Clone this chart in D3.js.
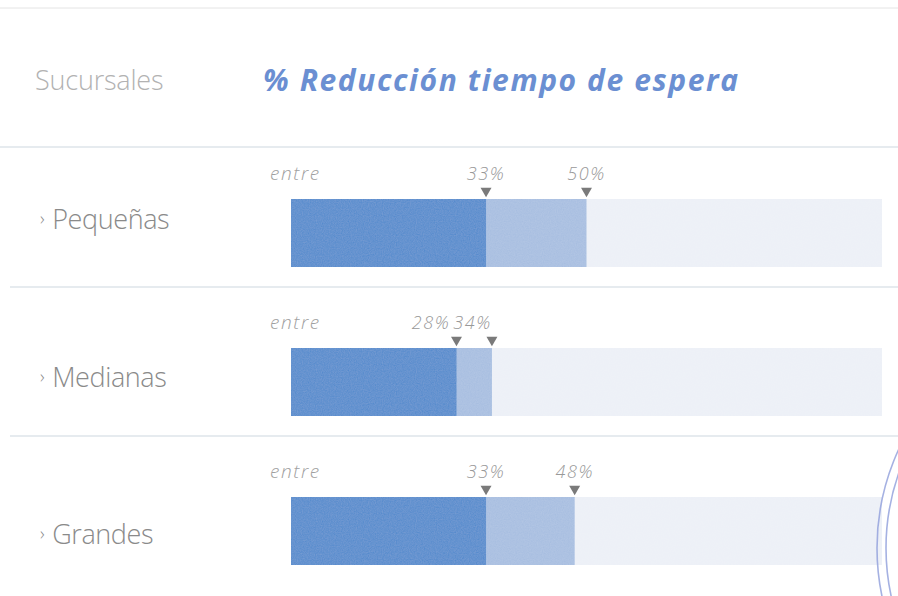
<!DOCTYPE html>
<html lang="es">
<head>
<meta charset="utf-8">
<title>% Reducción tiempo de espera</title>
<script src="https://cdn.jsdelivr.net/npm/d3@7"></script>
<style>
  html, body { margin: 0; padding: 0; background: #fff; }
  svg { display: block; }
</style>
</head>
<body>
<svg id="chart" width="898" height="596"></svg>
<script>
// Branch size categories and the range of waiting-time reduction (percent)
const categories = ["Pequeñas", "Medianas", "Grandes"];
const lowValues  = [33, 28, 33];
const highValues = [50, 34, 48];
const maxValue = 100;

const headerLeft  = "Sucursales";
const headerRight = "% Reducción tiempo de espera";
const rangeWord   = "entre";

const W = 898, H = 596;
const svg = d3.select("#chart");

const fontFamily = "'Open Sans', 'Noto Sans', sans-serif";

// Scales
const x = d3.scaleLinear().domain([0, maxValue]).range([291, 882]);
const y = d3.scaleBand().domain(categories).range([199, 565]).paddingInner(0.5436).paddingOuter(0);
const bh = y.bandwidth();
// baselines of the row titles in the left column
const yLabel = d3.scalePoint().domain(categories).range([229, 544]);

// grain texture for the printed bars
const defs = svg.append("defs");
const grain = defs.append("filter").attr("id", "grain")
  .attr("x", 0).attr("y", 0).attr("width", 1).attr("height", 1);
grain.append("feTurbulence").attr("type", "fractalNoise").attr("baseFrequency", 0.85)
  .attr("numOctaves", 2).attr("seed", 4).attr("result", "noise");
grain.append("feColorMatrix").attr("in", "noise").attr("type", "matrix")
  .attr("values", "0 0 0 0 1  0 0 0 0 1  0 0 0 0 1  0 0 0 0.12 0").attr("result", "speck");
grain.append("feComposite").attr("in", "speck").attr("in2", "SourceGraphic").attr("operator", "in").attr("result", "specks");
grain.append("feMerge").selectAll("feMergeNode").data(["SourceGraphic", "specks"]).join("feMergeNode").attr("in", d => d);

// Top rule
svg.append("line").attr("x1", 0).attr("x2", W).attr("y1", 8).attr("y2", 8)
  .attr("stroke", "#e4e4e4").attr("stroke-width", 1);

// Header
svg.append("text").attr("x", 35).attr("y", 90)
  .attr("font-family", fontFamily).attr("font-weight", 300).attr("font-size", 27)
  .attr("fill", "#b2b2b2").attr("letter-spacing", -0.2).text(headerLeft);
svg.append("text").attr("x", 263).attr("y", 91)
  .attr("font-family", fontFamily).attr("font-weight", 700).attr("font-style", "italic")
  .attr("font-size", 30).attr("fill", "#6b8fd2")
  .attr("textLength", 475).attr("lengthAdjust", "spacing").text(headerRight);

// Row separators
const sepColor = "#cdd8e0";
svg.append("line").attr("x1", 0).attr("x2", W).attr("y1", 147).attr("y2", 147)
  .attr("stroke", sepColor).attr("stroke-width", 1.2);
categories.slice(1).forEach(c => {
  const yy = y(c) - 61;
  svg.append("line").attr("x1", 10).attr("x2", W).attr("y1", yy).attr("y2", yy)
    .attr("stroke", sepColor).attr("stroke-width", 1.2);
});

const rows = categories.map((c, i) => ({ cat: c, lo: lowValues[i], hi: highValues[i] }));

// Row titles
const lab = svg.append("g").selectAll("text").data(rows).join("text")
  .attr("x", 40).attr("y", d => yLabel(d.cat))
  .attr("font-family", fontFamily).attr("font-weight", 300).attr("font-size", 27)
  .attr("fill", "#8a8a8a").attr("letter-spacing", -0.4);
lab.append("tspan").attr("font-size", 18).attr("dy", -4).text("›");
lab.append("tspan").attr("dx", 8).attr("dy", 4).text(d => d.cat);

const g = svg.append("g").selectAll("g").data(rows).join("g")
  .attr("transform", d => `translate(0,${y(d.cat)})`);

// Bars: full track, upper bound, lower bound
const bars = g.append("g").attr("filter", "url(#grain)");
bars.append("rect").attr("x", x(0)).attr("y", 0).attr("height", bh)
  .attr("width", x(maxValue) - x(0)).attr("fill", "#ecf0f7");
bars.append("rect").attr("x", x(0)).attr("y", 0).attr("height", bh)
  .attr("width", d => x(d.hi) - x(0)).attr("fill", "#a6bde0");
bars.append("rect").attr("x", x(0)).attr("y", 0).attr("height", bh)
  .attr("width", d => x(d.lo) - x(0)).attr("fill", "#5088cc");

// "entre" prefix
g.append("text").attr("x", 270).attr("y", -19)
  .attr("font-family", fontFamily).attr("font-weight", 300).attr("font-style", "italic")
  .attr("font-size", 19).attr("letter-spacing", 1.6).attr("fill", "#a0a0a0").text(rangeWord);

// Marker triangles and value labels
const tri = d3.symbol().type(d3.symbolTriangle).size(52);
g.each(function (d) {
  const row = d3.select(this);
  [d.lo, d.hi].forEach(v => {
    row.append("path").attr("d", tri)
      .attr("transform", `translate(${x(v)},-8) rotate(180)`)
      .attr("fill", "#7a7a7a");
  });

  const mk = v => row.append("text").attr("y", -19).attr("font-family", fontFamily)
    .attr("font-weight", 300).attr("font-style", "italic").attr("font-size", 18)
    .attr("fill", "#999").attr("letter-spacing", 1.6).text(v + "%");
  const t1 = mk(d.lo), t2 = mk(d.hi);
  const w1 = t1.node().getComputedTextLength();
  const w2 = t2.node().getComputedTextLength();
  // centred on their marker, moved left when the two would collide
  let x1 = x(d.lo) - w1 / 2, x2 = x(d.hi) - w2 / 2;
  if (x1 + w1 + 4 > x2) {
    x2 = x(d.hi) - w2;
    x1 = x2 - 3 - w1;
  }
  t1.attr("x", x1);
  t2.attr("x", x2);
});

// Partial stamp outline at the lower right edge
[235, 226].forEach(r => {
  svg.append("circle").attr("cx", 1112).attr("cy", 548).attr("r", r)
    .attr("fill", "none").attr("stroke", "#8f9edb").attr("stroke-width", 1.6).attr("opacity", 0.8);
});
</script>
</body>
</html>
